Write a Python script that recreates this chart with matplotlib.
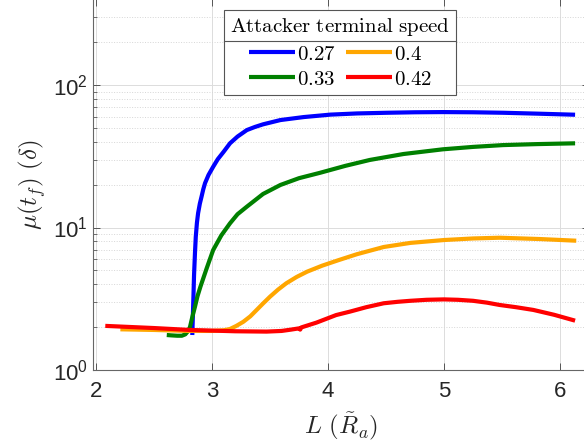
import numpy as np
import matplotlib
matplotlib.use('Agg')
import matplotlib.pyplot as plt
from matplotlib.lines import Line2D
from matplotlib.ticker import LogLocator, FixedLocator, NullFormatter, FuncFormatter

plt.rcParams['font.family'] = ['Liberation Sans', 'DejaVu Sans']
plt.rcParams['mathtext.fontset'] = 'custom'
plt.rcParams['mathtext.rm'] = 'Liberation Sans'

# values
L_027 = [2.83, 2.835, 2.84, 2.845, 2.853, 2.86, 2.87, 2.88, 2.895, 2.91, 2.925, 2.94, 2.97, 3.01, 3.05,
         3.10, 3.155, 3.22, 3.30, 3.37, 3.44, 3.59, 3.79, 4.02, 4.25, 4.51, 4.75, 4.99, 5.25, 5.51, 5.8, 6.13]
mu_027 = [1.76, 2.4, 3.3, 4.6, 6.6, 8.6, 10.8, 12.6, 14.7, 16.5, 18.6, 20.5, 23.4, 26.7, 30.2,
          34.0, 39.0, 43.5, 48.3, 50.8, 53.0, 56.8, 59.6, 62.0, 63.2, 63.9, 64.4, 64.6, 64.4, 63.9, 63.0, 61.9]

L_033 = [2.61, 2.65, 2.70, 2.74, 2.77, 2.79, 2.81, 2.83, 2.853, 2.875, 2.90, 2.955, 3.01, 3.08, 3.155,
         3.22, 3.30, 3.44, 3.59, 3.75, 3.93, 4.15, 4.36, 4.65, 4.99, 5.25, 5.51, 5.8, 6.13]
mu_033 = [1.76, 1.75, 1.74, 1.74, 1.78, 1.86, 2.0, 2.35, 2.78, 3.3, 3.84, 5.2, 6.95, 8.8, 10.7,
          12.4, 14.0, 17.2, 19.9, 22.2, 24.2, 27.1, 29.8, 32.8, 35.4, 36.8, 37.9, 38.5, 39.0]

L_04 = [2.21, 2.5, 2.8, 3.0, 3.1, 3.155, 3.21, 3.27, 3.33, 3.385, 3.44, 3.50, 3.57, 3.64, 3.73, 3.82,
        3.95, 4.09, 4.25, 4.48, 4.71, 5.0, 5.25, 5.48, 5.83, 6.14]
mu_04 = [1.93, 1.91, 1.88, 1.88, 1.90, 1.94, 2.04, 2.18, 2.38, 2.64, 2.93, 3.27, 3.67, 4.06, 4.5, 4.9,
         5.4, 5.9, 6.5, 7.3, 7.8, 8.17, 8.38, 8.48, 8.3, 8.08]

L_042 = [2.08, 2.5, 2.81, 3.2, 3.47, 3.6, 3.68, 3.75, 3.76, 3.77, 3.9, 4.07, 4.19, 4.33, 4.48, 4.6,
         4.71, 4.85, 5.0, 5.12, 5.25, 5.37, 5.48, 5.62, 5.77, 5.95, 6.13]
mu_042 = [2.04, 1.97, 1.91, 1.87, 1.86, 1.88, 1.92, 1.96, 1.92, 1.99, 2.15, 2.43, 2.57, 2.76, 2.94, 3.01,
          3.06, 3.11, 3.13, 3.11, 3.06, 2.97, 2.86, 2.76, 2.64, 2.44, 2.22]

series = [('0.27', L_027, mu_027, (0, 0, 1)),
          ('0.33', L_033, mu_033, (0, 0.5, 0)),
          ('0.4', L_04, mu_04, (1, 0.65, 0)),
          ('0.42', L_042, mu_042, (1, 0, 0))]

fig = plt.figure(figsize=(5.84, 4.48), dpi=100)
ax = fig.add_axes([93/584, 78/448, 496/584, 371.5/448])

for name, x, y, c in series:
    ax.plot(x, y, color=c, lw=3, label='$' + name + '$', solid_capstyle='butt', solid_joinstyle='round')

ax.set_yscale('log')
ax.set_xlim(1.974, 6.25)
ax.set_ylim(1, 405)
ax.xaxis.set_major_locator(FixedLocator([2, 3, 4, 5, 6]))
ax.yaxis.set_major_locator(FixedLocator([1, 10, 100]))
ax.yaxis.set_minor_locator(LogLocator(base=10, subs=np.arange(2, 10)))
ax.yaxis.set_minor_formatter(NullFormatter())
ax.yaxis.set_major_formatter(FuncFormatter(lambda v, p: r'$\mathdefault{10^{%d}}$' % round(np.log10(v))))

ax.grid(True, which='major', color='#dcdcdc', lw=0.7, ls='-')
ax.grid(True, which='minor', axis='y', color='#d6d6d6', lw=0.7, ls=':')
ax.set_axisbelow(True)

ax.tick_params(which='both', direction='in', top=True, right=True, colors='#555555',
               labelcolor='#262626', labelsize=16)
ax.tick_params(which='major', length=5, width=0.7)
ax.tick_params(which='minor', length=3, width=0.6)
ax.tick_params(axis='x', pad=8)
for s in ax.spines.values():
    s.set_color('#666666')
    s.set_linewidth(0.8)

xl = ax.set_xlabel(r'$L\ (\tilde{R}_a)$', fontsize=18, color='#262626', labelpad=6)
yl = ax.set_ylabel(r'$\mu(t_f)\ (\delta)$', fontsize=18, color='#262626', labelpad=4)
xl.set_math_fontfamily('cm')
yl.set_math_fontfamily('cm')

leg = ax.legend(ncol=2, title=r'$\mathrm{Attacker\ terminal\ speed}$', fontsize=15,
                loc='upper left', bbox_to_anchor=(224/584, 1 - 10/448), bbox_transform=fig.transFigure,
                borderaxespad=0, fancybox=False, framealpha=1, edgecolor='#555555',
                handlelength=2.2, handletextpad=0.1, columnspacing=0.5, labelspacing=0.3,
                borderpad=0.3)
leg.get_frame().set_linewidth(0.8)
leg.get_title().set_fontsize(15)
leg.get_title().set_math_fontfamily('cm')
for t in leg.get_texts():
    t.set_math_fontfamily('cm')
for h in leg.legend_handles:
    h.set_linewidth(3)

# separator line under the legend title
fig.canvas.draw()
r = fig.canvas.get_renderer()
fb = leg.get_frame().get_window_extent(r)
tb = leg.get_title().get_window_extent(r)
t0 = leg.get_texts()[0].get_window_extent(r)
ysep = (tb.y0 + t0.y1) / 2
inv = fig.transFigure.inverted()
p0 = inv.transform((fb.x0, ysep))
p1 = inv.transform((fb.x1, ysep))
fig.add_artist(Line2D([p0[0], p1[0]], [p0[1], p1[1]], color='#555555', lw=0.8, transform=fig.transFigure))

fig.savefig('out.png', dpi=100)
